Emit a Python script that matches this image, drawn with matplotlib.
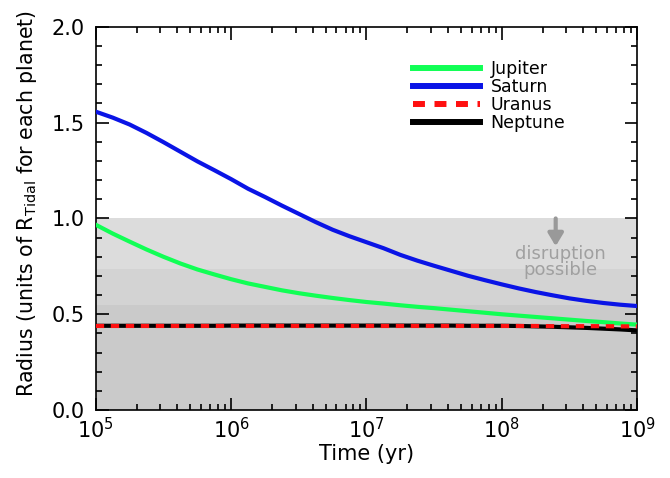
import numpy as np
import matplotlib
matplotlib.use("Agg")
import matplotlib.pyplot as plt
from matplotlib.ticker import LogLocator, MultipleLocator

plt.rcParams['font.family'] = ['DejaVu Sans']
plt.rcParams['mathtext.fontset'] = 'dejavusans'

# log10(time / yr)
logt = [5.0, 5.125, 5.25, 5.375, 5.5, 5.625, 5.75, 5.875, 6.0,
        6.125, 6.25, 6.375, 6.5, 6.625, 6.75, 6.875, 7.0,
        7.125, 7.25, 7.375, 7.5, 7.625, 7.75, 7.875, 8.0,
        8.125, 8.25, 8.375, 8.5, 8.625, 8.75, 8.875, 9.0]
jupiter = [0.967, 0.921, 0.879, 0.838, 0.800, 0.765, 0.734, 0.708, 0.683,
           0.661, 0.643, 0.625, 0.610, 0.597, 0.585, 0.574, 0.564,
           0.556, 0.547, 0.539, 0.532, 0.524, 0.516, 0.508, 0.500,
           0.493, 0.486, 0.479, 0.472, 0.465, 0.459, 0.452, 0.446]
saturn = [1.557, 1.526, 1.490, 1.446, 1.398, 1.348, 1.298, 1.252, 1.205,
          1.155, 1.112, 1.067, 1.024, 0.981, 0.941, 0.907, 0.876,
          0.845, 0.810, 0.780, 0.753, 0.727, 0.701, 0.678, 0.656,
          0.635, 0.616, 0.599, 0.583, 0.570, 0.559, 0.550, 0.543]
uranus = [0.439, 0.439, 0.439, 0.439, 0.439, 0.439, 0.439, 0.439, 0.439,
          0.439, 0.439, 0.439, 0.439, 0.439, 0.439, 0.439, 0.439,
          0.439, 0.439, 0.439, 0.439, 0.439, 0.439, 0.439, 0.439,
          0.439, 0.439, 0.438, 0.438, 0.438, 0.438, 0.437, 0.437]
neptune = [0.440, 0.440, 0.440, 0.440, 0.440, 0.440, 0.440, 0.440, 0.441,
           0.441, 0.441, 0.441, 0.441, 0.441, 0.441, 0.441, 0.441,
           0.441, 0.441, 0.441, 0.441, 0.441, 0.440, 0.440, 0.440,
           0.439, 0.437, 0.435, 0.432, 0.429, 0.425, 0.421, 0.416]

# disruption zones (top edges of shaded bands)
bands = [1.0, 0.735, 0.547]
band_colors = ['#dcdcdc', '#d3d3d3', '#cacaca']

t = 10 ** np.array(logt)

fig = plt.figure(figsize=(6.7, 4.78), dpi=100)
ax = fig.add_axes([0.143, 0.142, 0.808, 0.802])

for top, c in zip(bands, band_colors):
    ax.axhspan(0, top, color=c, lw=0, zorder=0)

ax.plot(t, jupiter, color='#11ff55', lw=3, label='Jupiter', zorder=3)
ax.plot(t, saturn, color='#0a14e6', lw=3, label='Saturn', zorder=3)
ax.plot(t, neptune, color='black', lw=3, label='Neptune', zorder=3)
ax.plot(t, uranus, color='#ff1010', lw=3, dashes=(2, 1.6), label='Uranus', zorder=4)

ax.annotate('', xy=(2.5e8, 0.855), xytext=(2.5e8, 1.0),
            arrowprops=dict(arrowstyle='-|>,head_width=0.45,head_length=0.75',
                            color='#999999', lw=3, shrinkA=0, shrinkB=0))
ax.text(2.7e8, 0.775, 'disruption\npossible', color='#a0a0a0', fontsize=13,
        ha='center', va='center', linespacing=0.85)

ax.set_xscale('log')
ax.set_xlim(1e5, 1e9)
ax.set_ylim(0, 2.0)
ax.yaxis.set_major_locator(MultipleLocator(0.5))
ax.yaxis.set_minor_locator(MultipleLocator(0.1))
ax.xaxis.set_major_locator(LogLocator(base=10, numticks=10))
ax.xaxis.set_minor_locator(LogLocator(base=10, subs=np.arange(2, 10), numticks=10))
ax.yaxis.set_major_formatter(plt.FormatStrFormatter('%.1f'))

ax.tick_params(which='both', direction='in', top=True, right=True, width=1.2)
ax.tick_params(which='major', length=9, labelsize=15)
ax.tick_params(axis='y', which='major', pad=8)
ax.tick_params(axis='x', which='major', pad=5)
ax.tick_params(which='minor', length=4.5)
for s in ax.spines.values():
    s.set_linewidth(1.2)

ax.set_xlabel('Time (yr)', fontsize=15, labelpad=1)
ax.set_ylabel(r'Radius (units of R$_\mathregular{Tidal}$ for each planet)', fontsize=14.8)
ax.yaxis.set_label_coords(-0.105, 0.54)

h, l = ax.get_legend_handles_labels()
order = [0, 1, 3, 2]
leg = ax.legend([h[i] for i in order], [l[i] for i in order], loc='upper left',
                bbox_to_anchor=(0.585, 0.914), frameon=False, fontsize=12.5,
                handlelength=3.9, handletextpad=0.6, labelspacing=0.0,
                borderaxespad=0, borderpad=0)
for ln in leg.get_lines():
    ln.set_linewidth(4.3)

fig.savefig('out.png', dpi=100)
